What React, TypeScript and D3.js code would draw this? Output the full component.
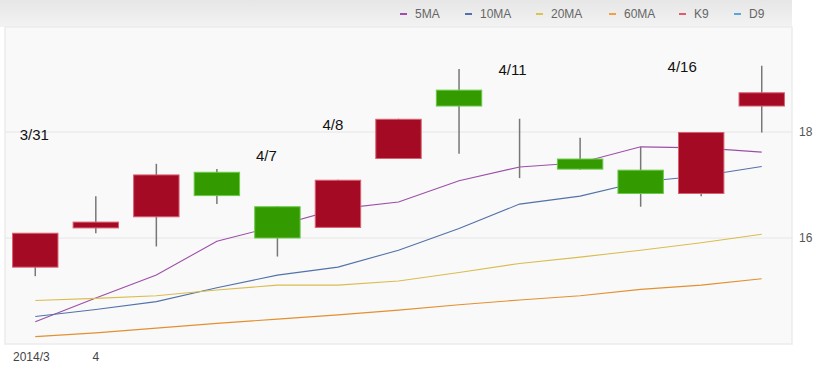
import React from "react";
import * as d3 from "d3";

const dates = ["3/31","4/1","4/2","4/3","4/7","4/8","4/9","4/10","4/11","4/14","4/15","4/16","4/17"];
const openV = [15.45,16.19,16.40,17.24,16.59,16.20,17.50,18.79,17.30,17.49,17.28,16.84,18.49];
const closeV = [16.09,16.30,17.19,16.80,16.00,17.09,18.24,18.49,17.30,17.30,16.84,17.99,18.74];
const highV = [16.09,16.79,17.40,17.30,16.60,17.10,18.25,19.19,18.25,17.89,17.72,18.00,19.25];
const lowV = [15.28,16.09,15.84,16.64,15.65,16.20,17.49,17.59,17.13,17.29,16.59,16.79,17.99];

const ma5 = [14.42,14.87,15.30,15.94,16.23,16.55,16.68,17.08,17.34,17.42,17.72,17.70,17.62];
const ma10 = [14.52,14.65,14.80,15.06,15.30,15.45,15.77,16.18,16.64,16.79,17.06,17.17,17.35];
const ma20 = [14.82,14.86,14.91,15.02,15.11,15.11,15.19,15.35,15.52,15.64,15.77,15.91,16.07];
const ma60 = [14.14,14.21,14.30,14.39,14.47,14.55,14.64,14.74,14.83,14.91,15.03,15.11,15.23];

const legendNames = ["5MA","10MA","20MA","60MA","K9","D9"];
const legendColors = ["#a24bb3","#5070b0","#d8c452","#f0a045","#e25a6c","#5aa6d8"];
const maSeries = [ma5, ma10, ma20, ma60];
const maColors = ["#9c4fa8","#5272a8","#d9bd4e","#e3902f"];

const yTicks = [16, 18];
const xTickLabels = [{ i: 0, text: "2014/3" }, { i: 1, text: "4" }];
const annotations = [
  { i: 0, label: "3/31", v: 17.94 },
  { i: 4, label: "4/7", v: 17.55 },
  { i: 5, label: "4/8", v: 18.13 },
  { i: 8, label: "4/11", v: 19.17 },
  { i: 11, label: "4/16", v: 19.23 },
];

export default function App() {
  const W = 837, H = 368;
  const left = 5, right = 792, top = 27, bottom = 344;
  const x = d3.scaleBand<number>().domain(dates.map((_, i) => i)).range([left, right]).paddingInner(0.25).paddingOuter(0.125);
  const y = d3.scaleLinear().domain([14, 20]).range([344, 26]);
  const cx = (i: number) => (x(i) as number) + x.bandwidth() / 2;
  const line = d3.line<number>().x((_, i) => cx(i)).y((d) => y(d));
  const font = "'Liberation Sans', Arial, sans-serif";
  const legendX = [400, 465, 536, 609, 679, 734];
  const annoNudge = [-1, -11, -5, -7, -19];

  return (
    <svg width={W} height={H} style={{ position: "absolute", left: 0, top: 0, display: "block" }}>
      <defs>
        <linearGradient id="lg" x1="0" y1="0" x2="0" y2="1">
          <stop offset="0" stopColor="#e6e6e6" />
          <stop offset="1" stopColor="#f3f3f3" />
        </linearGradient>
      </defs>
      <rect x={0} y={0} width={W} height={H} fill="#fff" />
      <rect x={0} y={0} width={right} height={top} fill="url(#lg)" />
      <rect x={left} y={top} width={right - left} height={bottom - top} fill="#f9f9f9" stroke="#ebebeb" strokeWidth={1.5} />
      {yTicks.map((t) => (
        <g key={t}>
          <line x1={left} x2={right} y1={y(t)} y2={y(t)} stroke="#e6e6e6" strokeWidth={1} />
          <text x={799} y={y(t)} dy="0.35em" fontSize={12} fill="#555" fontFamily={font}>{t}</text>
        </g>
      ))}
      {maSeries.map((s, k) => (
        <path key={k} d={line(s) || ""} fill="none" stroke={maColors[k]} strokeWidth={1.1} />
      ))}
      {dates.map((_, i) => {
        const up = closeV[i] >= openV[i];
        const bTop = y(Math.max(openV[i], closeV[i]));
        const bBot = y(Math.min(openV[i], closeV[i]));
        return (
          <g key={i}>
            <line x1={cx(i)} x2={cx(i)} y1={y(highV[i])} y2={y(lowV[i])} stroke="#777" strokeWidth={1.5} />
            {bBot - bTop > 0.5 && (
              <rect x={x(i)} y={bTop} width={x.bandwidth()} height={bBot - bTop}
                fill={up ? "#a50a25" : "#339a00"} stroke={up ? "#d9606f" : "#6cc94a"} strokeWidth={1} />
            )}
          </g>
        );
      })}
      {annotations.map((a, k) => (
        <text key={a.label} x={cx(a.i) + annoNudge[k]} y={y(a.v)} dy="0.35em" textAnchor="middle" fontSize={15} fill="#111" fontFamily={font}>{a.label}</text>
      ))}
      {xTickLabels.map((t) => (
        <text key={t.text} x={t.i === 0 ? 13 : cx(t.i)} y={361} textAnchor={t.i === 0 ? "start" : "middle"} fontSize={12} fill="#444" fontFamily={font}>{t.text}</text>
      ))}
      {legendNames.map((n, k) => (
        <g key={n}>
          <rect x={legendX[k]} y={13} width={7} height={2} fill={legendColors[k]} />
          <text x={legendX[k] + 15} y={14} dy="0.35em" fontSize={12} fill="#666" fontFamily={font}>{n}</text>
        </g>
      ))}
    </svg>
  );
}
